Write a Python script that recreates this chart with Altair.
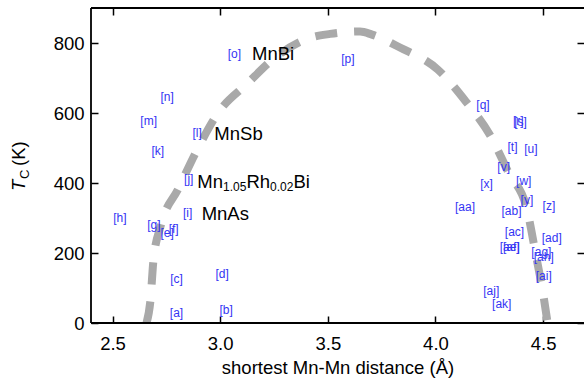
import altair as alt
import pandas as pd

# Curie temperature of Mn compounds against their shortest Mn-Mn distance
tags = ["a", "b", "c", "d", "e", "f", "g", "h", "i", "j", "k", "l", "m", "n",
        "o", "p", "q", "r", "s", "t", "u", "v", "w", "x", "y", "z",
        "aa", "ab", "ac", "ad", "ae", "af", "ag", "ah", "ai", "aj", "ak"]
mn_mn = [2.797, 3.028, 2.797, 3.009, 2.754, 2.784, 2.692, 2.534, 2.849, 2.854,
         2.710, 2.893, 2.668, 2.754, 3.066, 3.593, 4.221, 4.385, 4.395, 4.358,
         4.443, 4.317, 4.410, 4.237, 4.425, 4.527, 4.137, 4.353, 4.367, 4.540,
         4.345, 4.352, 4.492, 4.503, 4.503, 4.259, 4.308]
t_c = [28, 38, 126, 140, 257, 269, 279, 301, 314, 412,
       491, 543, 576, 645, 769, 755, 624, 576, 573, 502,
       496, 447, 407, 398, 352, 334, 331, 319, 260, 243,
       217, 217, 202, 188, 133, 91, 53]

# Bethe-Slater-like guide curve
guide_d = [2.658, 2.676, 2.690, 2.723, 2.806, 2.894, 2.991, 3.126, 3.256, 3.409,
           3.511, 3.650, 3.705, 3.835, 4.011, 4.141, 4.257, 4.341, 4.424, 4.466,
           4.503, 4.521]
guide_tc = [0, 64, 179, 276, 384, 496, 601, 684, 759, 813,
            826, 833, 824, 787, 724, 633, 533, 428, 327, 196,
            73, 0]

# Named compounds
names = ["MnBi", "MnSb", "MnAs"]
names_d = [3.148, 2.973, 2.914]
names_tc = [751, 523, 295]

# Compound written with subscripts
formula_parts = ["Mn", "1.05", "Rh", "0.02", "Bi"]
formula_sub = [False, True, False, True, False]
formula_d = 2.894
formula_tc = 385

x_ticks = [2.5, 3.0, 3.5, 4.0, 4.5]
y_ticks = [0, 200, 400, 600, 800]

FONT = "Liberation Sans"
BIG = 18.5
SMALL = 12
W, H = 493, 315

# Helvetica advance widths (em) for laying out the subscripted formula
ADV = {"M": 0.833, "n": 0.556, "R": 0.722, "h": 0.556, "B": 0.667, "i": 0.222,
       "0": 0.556, "1": 0.556, "2": 0.556, "5": 0.556, ".": 0.278}


def advance(s, size):
    return sum(ADV[c] for c in s) * size


xs = alt.Scale(domain=[2.4, 4.69], nice=False, zero=False)
ys = alt.Scale(domain=[0, 900], nice=False, zero=False)

common_axis = dict(offset=-7, tickSize=7, tickWidth=1.5, tickColor="black",
                   domain=False, grid=False, labelFlush=False,
                   labelFont=FONT, labelFontSize=BIG, labelColor="black")

x_bottom = alt.Axis(orient="bottom", values=x_ticks, format=".1f", labelPadding=11,
                    title="shortest Mn-Mn distance (Å)", titleFont=FONT,
                    titleFontSize=BIG, titleFontWeight="normal", titleColor="black",
                    titlePadding=6, **common_axis)
y_left = alt.Axis(orient="left", values=y_ticks, format="d", labelPadding=7,
                  title=None, **common_axis)
x_top = alt.Axis(orient="top", values=x_ticks, labels=False, title=None,
                 **{k: v for k, v in common_axis.items() if not k.startswith("label")})
y_right = alt.Axis(orient="right", values=y_ticks, labels=False, title=None,
                   **{k: v for k, v in common_axis.items() if not k.startswith("label")})

guide_df = pd.DataFrame({"d": guide_d, "tc": guide_tc, "o": range(len(guide_d))})
guide = alt.Chart(guide_df).mark_line(
    color="#a9a9a9", strokeWidth=8, strokeDash=[22, 17], strokeCap="butt",
    interpolate="monotone"
).encode(
    x=alt.X("d:Q", scale=xs, axis=x_bottom),
    y=alt.Y("tc:Q", scale=ys, axis=y_left),
    order="o:Q",
)

pts_df = pd.DataFrame({"d": mn_mn, "tc": t_c, "tag": ["[" + t + "]" for t in tags]})
refs = alt.Chart(pts_df).mark_text(
    font=FONT, fontSize=SMALL, color="#3434f4", align="center", baseline="middle"
).encode(
    x=alt.X("d:Q", scale=xs, axis=x_top),
    y=alt.Y("tc:Q", scale=ys, axis=y_right),
    text="tag:N",
)

names_df = pd.DataFrame({"d": names_d, "tc": names_tc, "name": names})
name_text = alt.Chart(names_df).mark_text(
    font=FONT, fontSize=BIG, color="black", align="left", baseline="alphabetic"
).encode(
    x=alt.X("d:Q", scale=xs, axis=None),
    y=alt.Y("tc:Q", scale=ys, axis=None),
    text="name:N",
)

formula_layers = []
offset_x = 0.0
for part, sub in zip(formula_parts, formula_sub):
    size = SMALL if sub else BIG
    formula_layers.append(
        alt.Chart(pd.DataFrame({"d": [formula_d], "tc": [formula_tc]})).mark_text(
            font=FONT, fontSize=size, color="black", align="left",
            baseline="alphabetic", dx=offset_x, dy=3 if sub else 0, text=part
        ).encode(
            x=alt.X("d:Q", scale=xs, axis=None),
            y=alt.Y("tc:Q", scale=ys, axis=None),
        )
    )
    offset_x += advance(part, size)

one = pd.DataFrame({"k": [0]})
frame_style = dict(color="black", strokeWidth=1.8)
frame = [
    alt.Chart(one).mark_rule(**frame_style).encode(
        x=alt.value(0), x2=alt.value(W), y=alt.value(0)),
    alt.Chart(one).mark_rule(**frame_style).encode(
        x=alt.value(0), x2=alt.value(W), y=alt.value(H)),
    alt.Chart(one).mark_rule(**frame_style).encode(
        x=alt.value(0), y=alt.value(0), y2=alt.value(H)),
]

# Rotated y-axis title: italic T, subscript C, then the unit
title_x, title_y = -66, 183
y_title = [
    alt.Chart(one).mark_text(font=FONT, fontSize=BIG, fontStyle="italic", angle=270,
                             align="left", baseline="alphabetic", text="T").encode(
        x=alt.value(title_x), y=alt.value(title_y)),
    alt.Chart(one).mark_text(font=FONT, fontSize=13, angle=270, align="left",
                             baseline="alphabetic", dx=12, dy=3.5, text="C").encode(
        x=alt.value(title_x), y=alt.value(title_y)),
    alt.Chart(one).mark_text(font=FONT, fontSize=BIG, angle=270, align="left",
                             baseline="alphabetic", dx=25, text="(K)").encode(
        x=alt.value(title_x), y=alt.value(title_y)),
]

chart = alt.layer(
    guide, refs, name_text, *formula_layers, *frame, *y_title
).resolve_axis(
    x="independent", y="independent"
).properties(
    width=W, height=H,
    padding={"left": 91, "top": 8, "right": 0, "bottom": 63},
    autosize=alt.AutoSizeParams(type="none"),
    background="white",
).configure_view(stroke=None)

chart.save("out.html", embed_options={"renderer": "svg", "actions": False})
